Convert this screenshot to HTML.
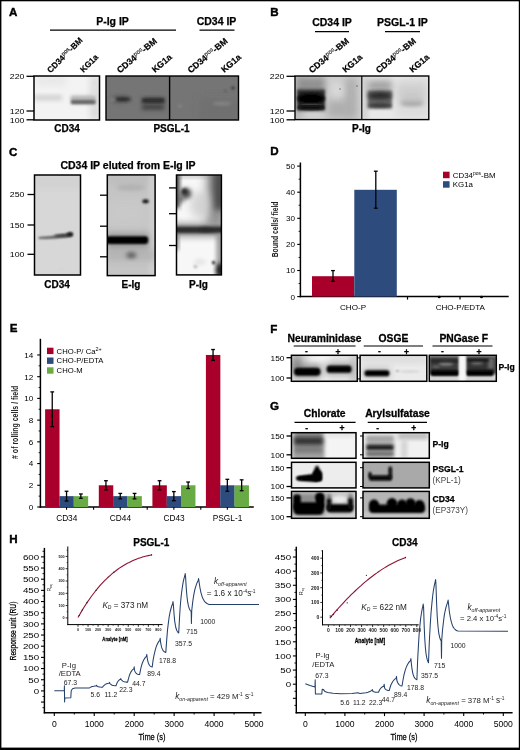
<!DOCTYPE html>
<html lang="en"><head><meta charset="utf-8"><title>Figure</title>
<style>html,body{margin:0;padding:0;background:#fff}body{width:520px;height:750px;overflow:hidden}svg{display:block}text{font-family:"Liberation Sans", sans-serif}</style>
</head><body>
<svg width="520" height="750" viewBox="0 0 520 750">
<defs>
<filter id="b05" x="-50%" y="-50%" width="200%" height="200%"><feGaussianBlur stdDeviation="0.5"/></filter>
<filter id="b1" x="-50%" y="-50%" width="200%" height="200%"><feGaussianBlur stdDeviation="1.0"/></filter>
<filter id="b15" x="-50%" y="-50%" width="200%" height="200%"><feGaussianBlur stdDeviation="1.5"/></filter>
<filter id="b2" x="-50%" y="-50%" width="200%" height="200%"><feGaussianBlur stdDeviation="2.0"/></filter>
<filter id="b3" x="-50%" y="-50%" width="200%" height="200%"><feGaussianBlur stdDeviation="3.0"/></filter>
<filter id="b4" x="-50%" y="-50%" width="200%" height="200%"><feGaussianBlur stdDeviation="4.0"/></filter>
<filter id="b6" x="-50%" y="-50%" width="200%" height="200%"><feGaussianBlur stdDeviation="6.0"/></filter>
<filter id="bh" x="-50%" y="-100%" width="200%" height="300%"><feGaussianBlur stdDeviation="2 0.8"/></filter>
<filter id="bh2" x="-50%" y="-100%" width="200%" height="300%"><feGaussianBlur stdDeviation="1.5 1.2"/></filter>
<filter id="bv" x="-100%" y="-50%" width="300%" height="200%"><feGaussianBlur stdDeviation="1 3"/></filter>
<filter id="soft" x="0" y="0" width="100%" height="100%" filterUnits="userSpaceOnUse"><feGaussianBlur stdDeviation="0.38"/></filter>
</defs>
<g filter="url(#soft)">
<rect x="0.00" y="0.00" width="520.00" height="750.00" fill="#fff"/>
<text x="9.00" y="16.40" font-size="11.60" font-weight="bold" fill="#000" stroke="#000" stroke-width="0.4">A</text>
<text x="112.50" y="24.70" font-size="10.50" font-weight="bold" text-anchor="middle" fill="#000" stroke="#000" stroke-width="0.25">P-Ig IP</text>
<line x1="50.00" y1="30.20" x2="176.00" y2="30.20" stroke="#000" stroke-width="1.20"/>
<text x="216.50" y="24.70" font-size="10.50" font-weight="bold" text-anchor="middle" fill="#000" stroke="#000" stroke-width="0.25">CD34 IP</text>
<line x1="199.50" y1="30.20" x2="234.50" y2="30.20" stroke="#000" stroke-width="1.20"/>
<text transform="translate(50.50 73.50) rotate(-45)" font-size="8.30" font-weight="bold" fill="#000" stroke="#000" stroke-width="0.2">CD34<tspan font-size="0.7em" dy="-3" font-weight="normal" fill="#111" stroke="#111" stroke-width="0.15">pos</tspan><tspan dy="3">-BM</tspan></text>
<text transform="translate(83.50 73.00) rotate(-45)" font-size="8.30" font-weight="bold" fill="#000" stroke="#000" stroke-width="0.2">KG1a</text>
<text transform="translate(120.00 73.50) rotate(-40)" font-size="8.80" font-weight="bold" fill="#000" stroke="#000" stroke-width="0.2">CD34<tspan font-size="0.7em" dy="-3" font-weight="normal" fill="#111" stroke="#111" stroke-width="0.15">pos</tspan><tspan dy="3">-BM</tspan></text>
<text transform="translate(155.00 73.00) rotate(-40)" font-size="8.80" font-weight="bold" fill="#000" stroke="#000" stroke-width="0.2">KG1a</text>
<text transform="translate(190.70 73.50) rotate(-40)" font-size="8.80" font-weight="bold" fill="#000" stroke="#000" stroke-width="0.2">CD34<tspan font-size="0.7em" dy="-3" font-weight="normal" fill="#111" stroke="#111" stroke-width="0.15">pos</tspan><tspan dy="3">-BM</tspan></text>
<text transform="translate(224.20 73.00) rotate(-40)" font-size="8.80" font-weight="bold" fill="#000" stroke="#000" stroke-width="0.2">KG1a</text>
<text transform="translate(24.50 79.20) scale(1.1 1)" font-size="8.00" text-anchor="end" fill="#000">220</text>
<line x1="26.50" y1="76.30" x2="34.00" y2="76.30" stroke="#000" stroke-width="1.30"/>
<text transform="translate(24.50 113.90) scale(1.1 1)" font-size="8.00" text-anchor="end" fill="#000">120</text>
<line x1="26.50" y1="111.00" x2="34.00" y2="111.00" stroke="#000" stroke-width="1.30"/>
<text transform="translate(24.50 122.70) scale(1.1 1)" font-size="8.00" text-anchor="end" fill="#000">100</text>
<line x1="26.50" y1="119.80" x2="34.00" y2="119.80" stroke="#000" stroke-width="1.30"/>
<clipPath id="c1"><rect x="34.00" y="76.00" width="65.50" height="44.00"/></clipPath>
<g clip-path="url(#c1)">
<rect x="34.00" y="76.00" width="65.50" height="44.00" fill="#f3f3f3"/>
<rect x="90.00" y="76.00" width="10.00" height="44.00" fill="#dcdcdc" filter="url(#b3)"/>
<rect x="36.00" y="76.00" width="30.00" height="10.00" fill="#e8e8e8" filter="url(#b3)"/>
<rect x="34.00" y="95.00" width="28.00" height="5.40" fill="#cdcdcd" filter="url(#b2)" opacity="0.90"/>
<rect x="70.50" y="95.40" width="25.20" height="9.20" fill="#b4b4b4" rx="2.00" filter="url(#b15)" opacity="0.95"/>
<rect x="71.00" y="100.00" width="24.60" height="3.90" fill="#686868" rx="1.60" filter="url(#b1)"/>
<rect x="92.50" y="85.00" width="3.00" height="10.00" fill="#e2e2e2" filter="url(#b1)"/>
</g>
<rect x="34.00" y="76.00" width="65.50" height="44.00" fill="none" stroke="#000" stroke-width="1.50"/>
<text x="67.00" y="131.50" font-size="10.00" font-weight="bold" text-anchor="middle" fill="#000" stroke="#000" stroke-width="0.25">CD34</text>
<clipPath id="c2"><rect x="106.00" y="76.00" width="132.50" height="44.00"/></clipPath>
<g clip-path="url(#c2)">
<rect x="106.00" y="76.00" width="132.50" height="44.00" fill="#757575"/>
<rect x="170.00" y="76.00" width="69.00" height="44.00" fill="#747474"/>
<rect x="200.00" y="100.00" width="40.00" height="20.00" fill="#6f6f6f" filter="url(#b4)"/>
<ellipse cx="120.50" cy="99.30" rx="11.00" ry="4.00" fill="#5a5a5a" filter="url(#b2)" opacity="0.70"/>
<ellipse cx="122.50" cy="99.20" rx="8.50" ry="2.20" fill="#2a2a2a" filter="url(#b15)"/>
<ellipse cx="113.00" cy="99.50" rx="3.00" ry="1.50" fill="#9a9a9a" filter="url(#b15)" opacity="0.70"/>
<rect x="141.50" y="97.50" width="23.50" height="13.50" fill="#555" filter="url(#b2)" opacity="0.75"/>
<rect x="142.00" y="98.00" width="22.50" height="5.00" fill="#2c2c2c" rx="2.00" filter="url(#b15)"/>
<rect x="143.00" y="105.50" width="20.00" height="3.40" fill="#444" rx="1.50" filter="url(#b15)" opacity="0.90"/>
<ellipse cx="233.00" cy="88.00" rx="1.60" ry="1.80" fill="#3a3a3a" filter="url(#b1)"/>
<ellipse cx="225.50" cy="91.00" rx="1.30" ry="1.30" fill="#5a5a5a" filter="url(#b1)"/>
<ellipse cx="222.00" cy="103.50" rx="9.50" ry="1.80" fill="#8c8c8c" filter="url(#b15)" opacity="0.80"/>
<ellipse cx="180.00" cy="106.00" rx="2.50" ry="1.50" fill="#868686" filter="url(#b15)"/>
</g>
<rect x="106.00" y="76.00" width="132.50" height="44.00" fill="none" stroke="#000" stroke-width="1.40"/>
<line x1="169.60" y1="76.00" x2="169.60" y2="120.00" stroke="#000" stroke-width="1.40"/>
<text x="171.50" y="131.50" font-size="10.00" font-weight="bold" text-anchor="middle" fill="#000" stroke="#000" stroke-width="0.25">PSGL-1</text>
<text x="270.30" y="16.40" font-size="11.60" font-weight="bold" fill="#000" stroke="#000" stroke-width="0.4">B</text>
<text x="332.00" y="26.10" font-size="10.50" font-weight="bold" text-anchor="middle" fill="#000" stroke="#000" stroke-width="0.25">CD34 IP</text>
<line x1="315.00" y1="31.60" x2="349.00" y2="31.60" stroke="#000" stroke-width="1.10"/>
<text x="402.50" y="26.10" font-size="10.50" font-weight="bold" text-anchor="middle" fill="#000" stroke="#000" stroke-width="0.25">PSGL-1 IP</text>
<line x1="385.00" y1="31.60" x2="420.00" y2="31.60" stroke="#000" stroke-width="1.10"/>
<text transform="translate(312.00 73.50) rotate(-40)" font-size="8.80" font-weight="bold" fill="#000" stroke="#000" stroke-width="0.2">CD34<tspan font-size="0.7em" dy="-3" font-weight="normal" fill="#111" stroke="#111" stroke-width="0.15">pos</tspan><tspan dy="3">-BM</tspan></text>
<text transform="translate(345.50 73.00) rotate(-40)" font-size="8.80" font-weight="bold" fill="#000" stroke="#000" stroke-width="0.2">KG1a</text>
<text transform="translate(379.00 73.50) rotate(-40)" font-size="8.80" font-weight="bold" fill="#000" stroke="#000" stroke-width="0.2">CD34<tspan font-size="0.7em" dy="-3" font-weight="normal" fill="#111" stroke="#111" stroke-width="0.15">pos</tspan><tspan dy="3">-BM</tspan></text>
<text transform="translate(412.50 73.00) rotate(-40)" font-size="8.80" font-weight="bold" fill="#000" stroke="#000" stroke-width="0.2">KG1a</text>
<text transform="translate(284.50 79.20) scale(1.1 1)" font-size="8.00" text-anchor="end" fill="#000">220</text>
<line x1="286.50" y1="76.30" x2="295.00" y2="76.30" stroke="#000" stroke-width="1.30"/>
<text transform="translate(284.50 113.90) scale(1.1 1)" font-size="8.00" text-anchor="end" fill="#000">120</text>
<line x1="286.50" y1="111.00" x2="295.00" y2="111.00" stroke="#000" stroke-width="1.30"/>
<text transform="translate(284.50 122.70) scale(1.1 1)" font-size="8.00" text-anchor="end" fill="#000">100</text>
<line x1="286.50" y1="119.80" x2="295.00" y2="119.80" stroke="#000" stroke-width="1.30"/>
<clipPath id="c3"><rect x="295.00" y="76.00" width="133.80" height="43.60"/></clipPath>
<g clip-path="url(#c3)">
<rect x="295.00" y="76.00" width="133.80" height="43.60" fill="#dedede"/>
<rect x="295.00" y="76.00" width="67.00" height="44.00" fill="#cfcfcf"/>
<rect x="293.00" y="76.00" width="10.00" height="44.00" fill="#b4b4b4" filter="url(#b3)" opacity="0.80"/>
<rect x="326.00" y="76.00" width="38.00" height="44.00" fill="#cdcdcd" filter="url(#b3)"/>
<rect x="345.00" y="78.00" width="12.00" height="40.00" fill="#a8a8a8" filter="url(#b3)" opacity="0.75"/>
<rect x="327.00" y="100.00" width="22.00" height="18.00" fill="#a9a9a9" filter="url(#b4)" opacity="0.85"/>
<ellipse cx="337.00" cy="90.00" rx="6.00" ry="8.00" fill="#dcdcdc" filter="url(#b3)" opacity="0.80"/>
<ellipse cx="340.00" cy="89.00" rx="0.80" ry="0.80" fill="#777" filter="url(#b05)"/>
<ellipse cx="357.00" cy="86.00" rx="0.80" ry="0.80" fill="#666" filter="url(#b05)"/>
<rect x="297.00" y="77.00" width="28.00" height="15.00" fill="#8a8a8a" filter="url(#b3)" opacity="0.90"/>
<rect x="297.00" y="89.50" width="28.00" height="21.00" fill="#262626" filter="url(#b15)"/>
<ellipse cx="311.00" cy="98.60" rx="13.80" ry="5.00" fill="#000" filter="url(#b15)"/>
<ellipse cx="311.00" cy="107.70" rx="13.40" ry="2.30" fill="#0a0a0a" filter="url(#b1)"/>
<ellipse cx="311.50" cy="104.20" rx="11.00" ry="0.70" fill="#4a4a4a" filter="url(#b05)" opacity="0.70"/>
<rect x="362.00" y="76.00" width="67.00" height="44.00" fill="#e8e8e8"/>
<rect x="362.00" y="76.00" width="6.00" height="44.00" fill="#d2d2d2" filter="url(#b2)"/>
<rect x="396.00" y="78.00" width="34.00" height="40.00" fill="#dcdcdc" filter="url(#b4)"/>
<rect x="398.00" y="84.00" width="27.00" height="15.00" fill="#cccccc" filter="url(#b3)" opacity="0.80"/>
<rect x="367.50" y="80.00" width="24.50" height="12.00" fill="#9a9a9a" filter="url(#b3)" opacity="0.85"/>
<rect x="367.50" y="90.50" width="24.50" height="18.00" fill="#666" filter="url(#b15)"/>
<ellipse cx="380.00" cy="95.80" rx="12.00" ry="3.80" fill="#2a2a2a" filter="url(#b2)"/>
<ellipse cx="380.00" cy="105.40" rx="11.80" ry="2.10" fill="#383838" filter="url(#b15)"/>
<ellipse cx="412.00" cy="103.00" rx="11.50" ry="2.60" fill="#8e8e8e" filter="url(#b2)"/>
<ellipse cx="412.00" cy="99.00" rx="12.00" ry="5.00" fill="#c2c2c2" filter="url(#b3)" opacity="0.80"/>
</g>
<rect x="295.00" y="76.00" width="133.80" height="43.60" fill="none" stroke="#000" stroke-width="1.40"/>
<line x1="361.80" y1="76.00" x2="361.80" y2="119.60" stroke="#000" stroke-width="1.20"/>
<text x="361.50" y="131.50" font-size="10.00" font-weight="bold" text-anchor="middle" fill="#000" stroke="#000" stroke-width="0.25">P-Ig</text>
<text x="9.00" y="155.60" font-size="11.60" font-weight="bold" fill="#000" stroke="#000" stroke-width="0.4">C</text>
<text x="128.00" y="169.00" font-size="10.50" font-weight="bold" text-anchor="middle" fill="#000" stroke="#000" stroke-width="0.25">CD34 IP eluted from E-Ig IP</text>
<text transform="translate(24.50 197.40) scale(1.1 1)" font-size="8.00" text-anchor="end" fill="#000">250</text>
<line x1="27.50" y1="194.50" x2="34.50" y2="194.50" stroke="#000" stroke-width="1.30"/>
<text transform="translate(24.50 227.90) scale(1.1 1)" font-size="8.00" text-anchor="end" fill="#000">150</text>
<line x1="27.50" y1="225.00" x2="34.50" y2="225.00" stroke="#000" stroke-width="1.30"/>
<text transform="translate(24.50 257.20) scale(1.1 1)" font-size="8.00" text-anchor="end" fill="#000">100</text>
<line x1="27.50" y1="254.30" x2="34.50" y2="254.30" stroke="#000" stroke-width="1.30"/>
<clipPath id="c4"><rect x="34.50" y="175.00" width="46.00" height="100.00"/></clipPath>
<g clip-path="url(#c4)">
<rect x="34.50" y="175.00" width="46.00" height="100.00" fill="#d7d7d7"/>
<rect x="34.00" y="175.00" width="48.00" height="14.00" fill="#d2d2d2" filter="url(#b3)"/>
<path d="M38.5 237 L50 236.2 L58 235 L66 233.4 L72 232.6 L72.6 236.2 L66 237.4 L56 238.4 L46 239 L38.5 238.8 Z" fill="#5a5a5a" filter="url(#b1)"/>
<ellipse cx="62.00" cy="235.60" rx="8.00" ry="1.50" fill="#3a3a3a" filter="url(#b1)" opacity="0.80"/>
<ellipse cx="70.00" cy="234.30" rx="3.00" ry="2.10" fill="#161616" filter="url(#b1)"/>
<ellipse cx="61.00" cy="269.00" rx="1.50" ry="1.00" fill="#cfcfcf" filter="url(#b1)"/>
</g>
<rect x="34.50" y="175.00" width="46.00" height="100.00" fill="none" stroke="#000" stroke-width="1.50"/>
<text x="57.00" y="287.50" font-size="10.00" font-weight="bold" text-anchor="middle" fill="#000" stroke="#000" stroke-width="0.25">CD34</text>
<line x1="100.00" y1="195.20" x2="107.00" y2="195.20" stroke="#000" stroke-width="1.30"/>
<line x1="100.00" y1="226.20" x2="107.00" y2="226.20" stroke="#000" stroke-width="1.30"/>
<line x1="100.00" y1="256.80" x2="107.00" y2="256.80" stroke="#000" stroke-width="1.30"/>
<clipPath id="c5"><rect x="107.30" y="174.90" width="47.80" height="100.70"/></clipPath>
<g clip-path="url(#c5)">
<rect x="107.30" y="174.90" width="47.80" height="100.70" fill="#c5c5c5"/>
<rect x="107.00" y="175.00" width="48.00" height="10.00" fill="#bebebe" filter="url(#b3)"/>
<ellipse cx="131.00" cy="187.50" rx="15.00" ry="3.00" fill="#adadad" filter="url(#b2)" opacity="0.90"/>
<rect x="149.00" y="175.00" width="8.00" height="101.00" fill="#cecece" filter="url(#b2)"/>
<rect x="107.00" y="200.00" width="38.00" height="26.00" fill="#cacaca" filter="url(#b4)" opacity="0.70"/>
<rect x="107.00" y="249.00" width="48.00" height="12.00" fill="#b0b0b0" filter="url(#b3)" opacity="0.80"/>
<rect x="107.00" y="233.50" width="42.00" height="14.00" fill="#666" filter="url(#b3)" opacity="0.50"/>
<rect x="105.00" y="236.20" width="43.20" height="7.80" fill="#050505" rx="3.00" filter="url(#b1)"/>
<ellipse cx="145.60" cy="201.20" rx="3.20" ry="2.00" fill="#141414" filter="url(#b1)"/>
<ellipse cx="131.30" cy="255.20" rx="5.00" ry="3.00" fill="#5a5a5a" filter="url(#b2)"/>
</g>
<rect x="107.30" y="174.90" width="47.80" height="100.70" fill="none" stroke="#000" stroke-width="1.50"/>
<text x="131.00" y="287.50" font-size="10.00" font-weight="bold" text-anchor="middle" fill="#000" stroke="#000" stroke-width="0.25">E-Ig</text>
<line x1="169.00" y1="187.90" x2="176.60" y2="187.90" stroke="#000" stroke-width="1.30"/>
<line x1="169.00" y1="213.70" x2="176.60" y2="213.70" stroke="#000" stroke-width="1.30"/>
<line x1="169.00" y1="245.50" x2="176.60" y2="245.50" stroke="#000" stroke-width="1.30"/>
<clipPath id="c6"><rect x="176.50" y="175.00" width="44.90" height="99.90"/></clipPath>
<g clip-path="url(#c6)">
<rect x="176.50" y="175.00" width="44.90" height="99.90" fill="#f7f7f7"/>
<rect x="176.00" y="174.00" width="46.00" height="4.00" fill="#bbb" filter="url(#b2)" opacity="0.80"/>
<rect x="206.00" y="170.00" width="20.00" height="56.00" fill="#8a8a8a" filter="url(#b4)" opacity="0.90"/>
<rect x="213.00" y="170.00" width="12.00" height="40.00" fill="#444" filter="url(#b3)" opacity="0.90"/>
<ellipse cx="200.00" cy="205.00" rx="10.00" ry="14.00" fill="#ccc" filter="url(#b4)" opacity="0.80"/>
<rect x="174.00" y="174.00" width="5.50" height="34.00" fill="#333" filter="url(#b2)"/>
<ellipse cx="186.00" cy="193.50" rx="5.50" ry="5.50" fill="#555" filter="url(#b2)"/>
<ellipse cx="184.50" cy="191.50" rx="3.00" ry="3.00" fill="#2a2a2a" filter="url(#b15)"/>
<ellipse cx="181.00" cy="199.00" rx="3.00" ry="4.00" fill="#555" filter="url(#b2)" opacity="0.80"/>
<rect x="172.00" y="223.00" width="54.00" height="14.00" fill="#777" filter="url(#b3)" opacity="0.70"/>
<rect x="172.00" y="226.60" width="54.00" height="6.60" fill="#2a2a2a" filter="url(#b15)"/>
<ellipse cx="205.00" cy="229.80" rx="4.00" ry="2.00" fill="#222" filter="url(#b2)" opacity="0.60"/>
<rect x="174.00" y="234.00" width="4.50" height="16.00" fill="#666" filter="url(#b2)" opacity="0.80"/>
<rect x="216.50" y="234.00" width="7.00" height="44.00" fill="#8a8a8a" filter="url(#b2)" opacity="0.85"/>
<ellipse cx="220.00" cy="270.00" rx="4.00" ry="7.00" fill="#1a1a1a" filter="url(#b2)"/>
<ellipse cx="213.60" cy="262.60" rx="1.70" ry="1.90" fill="#333" filter="url(#b1)"/>
<ellipse cx="195.50" cy="266.50" rx="2.00" ry="2.00" fill="#bdbdbd" filter="url(#b1)"/>
<ellipse cx="200.00" cy="262.00" rx="6.00" ry="3.00" fill="#e4e4e4" filter="url(#b2)"/>
</g>
<rect x="176.50" y="175.00" width="44.90" height="99.90" fill="none" stroke="#000" stroke-width="1.50"/>
<text x="198.50" y="287.50" font-size="10.00" font-weight="bold" text-anchor="middle" fill="#000" stroke="#000" stroke-width="0.25">P-Ig</text>
<text x="270.30" y="155.40" font-size="11.60" font-weight="bold" fill="#000" stroke="#000" stroke-width="0.4">D</text>
<line x1="300.40" y1="162.50" x2="300.40" y2="297.30" stroke="#000" stroke-width="1.50"/>
<line x1="299.70" y1="296.60" x2="508.70" y2="296.60" stroke="#000" stroke-width="1.50"/>
<line x1="297.20" y1="296.60" x2="300.40" y2="296.60" stroke="#000" stroke-width="1.10"/>
<text x="295.00" y="299.50" font-size="8.10" text-anchor="end" fill="#000">0</text>
<line x1="297.20" y1="270.50" x2="300.40" y2="270.50" stroke="#000" stroke-width="1.10"/>
<text x="295.00" y="273.40" font-size="8.10" text-anchor="end" fill="#000">10</text>
<line x1="297.20" y1="244.40" x2="300.40" y2="244.40" stroke="#000" stroke-width="1.10"/>
<text x="295.00" y="247.30" font-size="8.10" text-anchor="end" fill="#000">20</text>
<line x1="297.20" y1="218.30" x2="300.40" y2="218.30" stroke="#000" stroke-width="1.10"/>
<text x="295.00" y="221.20" font-size="8.10" text-anchor="end" fill="#000">30</text>
<line x1="297.20" y1="192.20" x2="300.40" y2="192.20" stroke="#000" stroke-width="1.10"/>
<text x="295.00" y="195.10" font-size="8.10" text-anchor="end" fill="#000">40</text>
<line x1="297.20" y1="166.10" x2="300.40" y2="166.10" stroke="#000" stroke-width="1.10"/>
<text x="295.00" y="169.00" font-size="8.10" text-anchor="end" fill="#000">50</text>
<line x1="298.60" y1="283.55" x2="300.40" y2="283.55" stroke="#000" stroke-width="0.90"/>
<line x1="298.60" y1="257.45" x2="300.40" y2="257.45" stroke="#000" stroke-width="0.90"/>
<line x1="298.60" y1="231.35" x2="300.40" y2="231.35" stroke="#000" stroke-width="0.90"/>
<line x1="298.60" y1="205.25" x2="300.40" y2="205.25" stroke="#000" stroke-width="0.90"/>
<line x1="298.60" y1="179.15" x2="300.40" y2="179.15" stroke="#000" stroke-width="0.90"/>
<line x1="407.50" y1="296.60" x2="407.50" y2="299.60" stroke="#000" stroke-width="1.20"/>
<line x1="460.00" y1="296.60" x2="460.00" y2="299.60" stroke="#000" stroke-width="1.20"/>
<rect x="312.00" y="276.20" width="42.30" height="20.40" fill="#a8042c"/>
<rect x="354.30" y="189.80" width="42.50" height="106.80" fill="#2f4c7e"/>
<line x1="333.00" y1="270.60" x2="333.00" y2="281.30" stroke="#000" stroke-width="1.30"/>
<line x1="331.10" y1="270.60" x2="334.90" y2="270.60" stroke="#000" stroke-width="1.30"/>
<line x1="331.10" y1="281.30" x2="334.90" y2="281.30" stroke="#000" stroke-width="1.30"/>
<line x1="375.80" y1="171.20" x2="375.80" y2="208.20" stroke="#000" stroke-width="1.30"/>
<line x1="373.90" y1="171.20" x2="377.70" y2="171.20" stroke="#000" stroke-width="1.30"/>
<line x1="373.90" y1="208.20" x2="377.70" y2="208.20" stroke="#000" stroke-width="1.30"/>
<ellipse cx="439.20" cy="296.90" rx="1.50" ry="1.25" fill="#000"/>
<ellipse cx="481.50" cy="296.90" rx="1.50" ry="1.25" fill="#000"/>
<text x="353.00" y="310.00" font-size="8.10" text-anchor="middle" fill="#000">CHO-P</text>
<text x="460.30" y="310.00" font-size="8.10" text-anchor="middle" fill="#000">CHO-P/EDTA</text>
<rect x="443.00" y="171.70" width="6.60" height="6.50" fill="#a8042c"/>
<rect x="443.00" y="181.20" width="6.60" height="6.50" fill="#2f4c7e"/>
<text x="452.80" y="177.70" font-size="7.90" fill="#000">CD34<tspan font-size="5" dy="-2.6">pos</tspan><tspan dy="2.6">-BM</tspan></text>
<text x="452.80" y="186.70" font-size="7.90" fill="#000">KG1a</text>
<text transform="translate(278.2 229.4) rotate(-90) scale(0.775 1)" font-size="8.7" font-weight="bold" text-anchor="middle" fill="#222">Bound cells/ field</text>
<text x="9.80" y="332.20" font-size="11.60" font-weight="bold" fill="#000" stroke="#000" stroke-width="0.4">E</text>
<line x1="40.40" y1="338.80" x2="40.40" y2="507.70" stroke="#000" stroke-width="1.50"/>
<line x1="39.70" y1="507.00" x2="253.80" y2="507.00" stroke="#000" stroke-width="1.50"/>
<line x1="37.20" y1="507.00" x2="40.40" y2="507.00" stroke="#000" stroke-width="1.10"/>
<text x="33.20" y="509.90" font-size="8.10" text-anchor="end" fill="#000">0</text>
<line x1="37.20" y1="485.28" x2="40.40" y2="485.28" stroke="#000" stroke-width="1.10"/>
<text x="33.20" y="488.18" font-size="8.10" text-anchor="end" fill="#000">2</text>
<line x1="37.20" y1="463.56" x2="40.40" y2="463.56" stroke="#000" stroke-width="1.10"/>
<text x="33.20" y="466.46" font-size="8.10" text-anchor="end" fill="#000">4</text>
<line x1="37.20" y1="441.84" x2="40.40" y2="441.84" stroke="#000" stroke-width="1.10"/>
<text x="33.20" y="444.74" font-size="8.10" text-anchor="end" fill="#000">6</text>
<line x1="37.20" y1="420.12" x2="40.40" y2="420.12" stroke="#000" stroke-width="1.10"/>
<text x="33.20" y="423.02" font-size="8.10" text-anchor="end" fill="#000">8</text>
<line x1="37.20" y1="398.40" x2="40.40" y2="398.40" stroke="#000" stroke-width="1.10"/>
<text x="33.20" y="401.30" font-size="8.10" text-anchor="end" fill="#000">10</text>
<line x1="37.20" y1="376.68" x2="40.40" y2="376.68" stroke="#000" stroke-width="1.10"/>
<text x="33.20" y="379.58" font-size="8.10" text-anchor="end" fill="#000">12</text>
<line x1="37.20" y1="354.96" x2="40.40" y2="354.96" stroke="#000" stroke-width="1.10"/>
<text x="33.20" y="357.86" font-size="8.10" text-anchor="end" fill="#000">14</text>
<line x1="38.60" y1="496.14" x2="40.40" y2="496.14" stroke="#000" stroke-width="0.90"/>
<line x1="38.60" y1="474.42" x2="40.40" y2="474.42" stroke="#000" stroke-width="0.90"/>
<line x1="38.60" y1="452.70" x2="40.40" y2="452.70" stroke="#000" stroke-width="0.90"/>
<line x1="38.60" y1="430.98" x2="40.40" y2="430.98" stroke="#000" stroke-width="0.90"/>
<line x1="38.60" y1="409.26" x2="40.40" y2="409.26" stroke="#000" stroke-width="0.90"/>
<line x1="38.60" y1="387.54" x2="40.40" y2="387.54" stroke="#000" stroke-width="0.90"/>
<line x1="38.60" y1="365.82" x2="40.40" y2="365.82" stroke="#000" stroke-width="0.90"/>
<rect x="45.10" y="409.26" width="14.45" height="97.74" fill="#a8042c"/>
<rect x="59.40" y="496.14" width="14.45" height="10.86" fill="#2f4c7e"/>
<rect x="73.70" y="496.14" width="14.45" height="10.86" fill="#68ab45"/>
<line x1="52.25" y1="391.88" x2="52.25" y2="426.64" stroke="#000" stroke-width="1.30"/>
<line x1="50.35" y1="391.88" x2="54.15" y2="391.88" stroke="#000" stroke-width="1.30"/>
<line x1="50.35" y1="426.64" x2="54.15" y2="426.64" stroke="#000" stroke-width="1.30"/>
<line x1="66.55" y1="491.25" x2="66.55" y2="501.03" stroke="#000" stroke-width="1.30"/>
<line x1="64.65" y1="491.25" x2="68.45" y2="491.25" stroke="#000" stroke-width="1.30"/>
<line x1="64.65" y1="501.03" x2="68.45" y2="501.03" stroke="#000" stroke-width="1.30"/>
<line x1="80.85" y1="493.97" x2="80.85" y2="498.31" stroke="#000" stroke-width="1.30"/>
<line x1="78.95" y1="493.97" x2="82.75" y2="493.97" stroke="#000" stroke-width="1.30"/>
<line x1="78.95" y1="498.31" x2="82.75" y2="498.31" stroke="#000" stroke-width="1.30"/>
<text x="66.75" y="520.90" font-size="8.30" text-anchor="middle" fill="#000">CD34</text>
<line x1="66.55" y1="507.00" x2="66.55" y2="509.80" stroke="#000" stroke-width="1.10"/>
<rect x="98.80" y="485.28" width="14.45" height="21.72" fill="#a8042c"/>
<rect x="113.10" y="496.14" width="14.45" height="10.86" fill="#2f4c7e"/>
<rect x="127.40" y="496.14" width="14.45" height="10.86" fill="#68ab45"/>
<line x1="105.95" y1="480.72" x2="105.95" y2="489.84" stroke="#000" stroke-width="1.30"/>
<line x1="104.05" y1="480.72" x2="107.85" y2="480.72" stroke="#000" stroke-width="1.30"/>
<line x1="104.05" y1="489.84" x2="107.85" y2="489.84" stroke="#000" stroke-width="1.30"/>
<line x1="120.25" y1="493.43" x2="120.25" y2="498.86" stroke="#000" stroke-width="1.30"/>
<line x1="118.35" y1="493.43" x2="122.15" y2="493.43" stroke="#000" stroke-width="1.30"/>
<line x1="118.35" y1="498.86" x2="122.15" y2="498.86" stroke="#000" stroke-width="1.30"/>
<line x1="134.55" y1="493.43" x2="134.55" y2="498.86" stroke="#000" stroke-width="1.30"/>
<line x1="132.65" y1="493.43" x2="136.45" y2="493.43" stroke="#000" stroke-width="1.30"/>
<line x1="132.65" y1="498.86" x2="136.45" y2="498.86" stroke="#000" stroke-width="1.30"/>
<text x="120.45" y="520.90" font-size="8.30" text-anchor="middle" fill="#000">CD44</text>
<line x1="120.25" y1="507.00" x2="120.25" y2="509.80" stroke="#000" stroke-width="1.10"/>
<rect x="152.40" y="485.28" width="14.45" height="21.72" fill="#a8042c"/>
<rect x="166.70" y="496.14" width="14.45" height="10.86" fill="#2f4c7e"/>
<rect x="181.00" y="485.28" width="14.45" height="21.72" fill="#68ab45"/>
<line x1="159.55" y1="480.72" x2="159.55" y2="489.84" stroke="#000" stroke-width="1.30"/>
<line x1="157.65" y1="480.72" x2="161.45" y2="480.72" stroke="#000" stroke-width="1.30"/>
<line x1="157.65" y1="489.84" x2="161.45" y2="489.84" stroke="#000" stroke-width="1.30"/>
<line x1="173.85" y1="491.58" x2="173.85" y2="500.70" stroke="#000" stroke-width="1.30"/>
<line x1="171.95" y1="491.58" x2="175.75" y2="491.58" stroke="#000" stroke-width="1.30"/>
<line x1="171.95" y1="500.70" x2="175.75" y2="500.70" stroke="#000" stroke-width="1.30"/>
<line x1="188.15" y1="482.02" x2="188.15" y2="488.54" stroke="#000" stroke-width="1.30"/>
<line x1="186.25" y1="482.02" x2="190.05" y2="482.02" stroke="#000" stroke-width="1.30"/>
<line x1="186.25" y1="488.54" x2="190.05" y2="488.54" stroke="#000" stroke-width="1.30"/>
<text x="174.05" y="520.90" font-size="8.30" text-anchor="middle" fill="#000">CD43</text>
<line x1="173.85" y1="507.00" x2="173.85" y2="509.80" stroke="#000" stroke-width="1.10"/>
<rect x="205.90" y="354.96" width="14.45" height="152.04" fill="#a8042c"/>
<rect x="220.20" y="485.28" width="14.45" height="21.72" fill="#2f4c7e"/>
<rect x="234.50" y="485.28" width="14.45" height="21.72" fill="#68ab45"/>
<line x1="213.05" y1="349.53" x2="213.05" y2="360.39" stroke="#000" stroke-width="1.30"/>
<line x1="211.15" y1="349.53" x2="214.95" y2="349.53" stroke="#000" stroke-width="1.30"/>
<line x1="211.15" y1="360.39" x2="214.95" y2="360.39" stroke="#000" stroke-width="1.30"/>
<line x1="227.35" y1="479.31" x2="227.35" y2="491.25" stroke="#000" stroke-width="1.30"/>
<line x1="225.45" y1="479.31" x2="229.25" y2="479.31" stroke="#000" stroke-width="1.30"/>
<line x1="225.45" y1="491.25" x2="229.25" y2="491.25" stroke="#000" stroke-width="1.30"/>
<line x1="241.65" y1="479.85" x2="241.65" y2="490.71" stroke="#000" stroke-width="1.30"/>
<line x1="239.75" y1="479.85" x2="243.55" y2="479.85" stroke="#000" stroke-width="1.30"/>
<line x1="239.75" y1="490.71" x2="243.55" y2="490.71" stroke="#000" stroke-width="1.30"/>
<text x="227.55" y="520.90" font-size="8.30" text-anchor="middle" fill="#000">PSGL-1</text>
<line x1="227.35" y1="507.00" x2="227.35" y2="509.80" stroke="#000" stroke-width="1.10"/>
<line x1="93.60" y1="507.00" x2="93.60" y2="509.80" stroke="#000" stroke-width="1.10"/>
<line x1="147.20" y1="507.00" x2="147.20" y2="509.80" stroke="#000" stroke-width="1.10"/>
<line x1="200.80" y1="507.00" x2="200.80" y2="509.80" stroke="#000" stroke-width="1.10"/>
<rect x="47.00" y="347.70" width="6.50" height="6.40" fill="#a8042c"/>
<text x="56.60" y="353.70" font-size="7.70" fill="#000">CHO-P/ Ca<tspan font-size="5.4" dy="-2.6">2+</tspan></text>
<rect x="47.00" y="357.50" width="6.50" height="6.40" fill="#2f4c7e"/>
<text x="56.60" y="363.40" font-size="7.70" fill="#000">CHO-P/EDTA</text>
<rect x="47.00" y="367.30" width="6.50" height="6.40" fill="#68ab45"/>
<text x="56.60" y="373.10" font-size="7.70" fill="#000">CHO-M</text>
<text transform="translate(17.6 422.3) rotate(-90) scale(0.805 1)" font-size="8.7" font-weight="bold" text-anchor="middle" fill="#222"># of rolling cells / field</text>
<text x="270.30" y="332.70" font-size="11.60" font-weight="bold" fill="#000" stroke="#000" stroke-width="0.4">F</text>
<text x="324.50" y="342.00" font-size="10.30" font-weight="bold" text-anchor="middle" fill="#000" stroke="#000" stroke-width="0.3">Neuraminidase</text>
<line x1="293.70" y1="346.00" x2="355.60" y2="346.00" stroke="#000" stroke-width="1.20"/>
<text x="393.50" y="342.00" font-size="10.30" font-weight="bold" text-anchor="middle" fill="#000" stroke="#000" stroke-width="0.3">OSGE</text>
<line x1="363.70" y1="346.00" x2="423.00" y2="346.00" stroke="#000" stroke-width="1.20"/>
<text x="463.80" y="342.00" font-size="10.30" font-weight="bold" text-anchor="middle" fill="#000" stroke="#000" stroke-width="0.3">PNGase F</text>
<line x1="432.50" y1="346.00" x2="492.50" y2="346.00" stroke="#000" stroke-width="1.20"/>
<text x="306.30" y="354.00" font-size="8.50" font-weight="bold" text-anchor="middle" fill="#000" stroke="#000" stroke-width="0.3">-</text>
<text x="379.30" y="354.00" font-size="8.50" font-weight="bold" text-anchor="middle" fill="#000" stroke="#000" stroke-width="0.3">-</text>
<text x="442.50" y="354.00" font-size="8.50" font-weight="bold" text-anchor="middle" fill="#000" stroke="#000" stroke-width="0.3">-</text>
<text x="338.00" y="355.20" font-size="8.50" font-weight="bold" text-anchor="middle" fill="#000" stroke="#000" stroke-width="0.3">+</text>
<text x="406.40" y="355.20" font-size="8.50" font-weight="bold" text-anchor="middle" fill="#000" stroke="#000" stroke-width="0.3">+</text>
<text x="479.00" y="355.20" font-size="8.50" font-weight="bold" text-anchor="middle" fill="#000" stroke="#000" stroke-width="0.3">+</text>
<text transform="translate(284.50 360.60) scale(1.1 1)" font-size="7.60" text-anchor="end" fill="#000">150</text>
<line x1="286.50" y1="357.70" x2="291.50" y2="357.70" stroke="#000" stroke-width="1.30"/>
<text transform="translate(284.50 380.90) scale(1.1 1)" font-size="7.60" text-anchor="end" fill="#000">100</text>
<line x1="286.50" y1="378.00" x2="291.50" y2="378.00" stroke="#000" stroke-width="1.30"/>
<clipPath id="c7"><rect x="291.40" y="355.30" width="65.90" height="26.00"/></clipPath>
<g clip-path="url(#c7)">
<rect x="291.40" y="355.30" width="65.90" height="26.00" fill="#e6e6e6"/>
<rect x="291.00" y="355.00" width="12.00" height="14.00" fill="#8a8a8a" filter="url(#b3)" opacity="0.80"/>
<rect x="303.00" y="355.00" width="18.00" height="10.00" fill="#c4c4c4" filter="url(#b3)" opacity="0.80"/>
<rect x="308.00" y="355.00" width="22.00" height="9.00" fill="#fafafa" filter="url(#b3)"/>
<rect x="319.00" y="357.00" width="9.00" height="26.00" fill="#f4f4f4" filter="url(#b3)"/>
<rect x="350.00" y="355.00" width="9.00" height="28.00" fill="#cfcfcf" filter="url(#b2)"/>
<rect x="292.00" y="364.00" width="30.00" height="14.00" fill="#555" filter="url(#b3)" opacity="0.50"/>
<rect x="325.00" y="362.50" width="28.00" height="12.50" fill="#666" filter="url(#b3)" opacity="0.45"/>
<rect x="294.00" y="367.80" width="26.50" height="8.00" fill="#050505" rx="3.80" filter="url(#b1)"/>
<rect x="326.60" y="365.60" width="25.00" height="7.20" fill="#050505" rx="3.40" filter="url(#b1)"/>
</g>
<rect x="291.40" y="355.30" width="65.90" height="26.00" fill="none" stroke="#000" stroke-width="1.50"/>
<clipPath id="c8"><rect x="360.10" y="355.30" width="66.70" height="26.00"/></clipPath>
<g clip-path="url(#c8)">
<rect x="360.10" y="355.30" width="66.70" height="26.00" fill="#ebebeb"/>
<rect x="360.00" y="355.00" width="67.00" height="8.00" fill="#dcdcdc" filter="url(#b3)"/>
<rect x="363.00" y="368.00" width="27.00" height="9.00" fill="#777" filter="url(#b3)" opacity="0.40"/>
<rect x="364.50" y="370.20" width="25.00" height="6.00" fill="#060606" rx="2.80" filter="url(#b1)"/>
<ellipse cx="397.50" cy="371.00" rx="1.40" ry="1.00" fill="#999" filter="url(#b1)"/>
<ellipse cx="410.00" cy="371.50" rx="10.00" ry="1.00" fill="#d0d0d0" filter="url(#b1)"/>
</g>
<rect x="360.10" y="355.30" width="66.70" height="26.00" fill="none" stroke="#000" stroke-width="1.50"/>
<line x1="357.40" y1="357.90" x2="360.00" y2="357.90" stroke="#000" stroke-width="1.00"/>
<line x1="357.40" y1="378.90" x2="360.00" y2="378.90" stroke="#000" stroke-width="1.00"/>
<clipPath id="c9"><rect x="429.30" y="355.30" width="67.00" height="26.00"/></clipPath>
<g clip-path="url(#c9)">
<rect x="429.30" y="355.30" width="67.00" height="26.00" fill="#e8e8e8"/>
<rect x="429.00" y="355.00" width="30.50" height="19.00" fill="#3a3a3a" filter="url(#b15)"/>
<rect x="465.50" y="355.00" width="31.00" height="19.00" fill="#333" filter="url(#b15)"/>
<rect x="429.00" y="354.00" width="68.00" height="3.40" fill="#8a8a8a" filter="url(#b1)" opacity="0.85"/>
<ellipse cx="446.00" cy="363.60" rx="7.50" ry="1.90" fill="#909090" filter="url(#b15)" opacity="0.90"/>
<ellipse cx="436.00" cy="366.80" rx="4.00" ry="1.20" fill="#777" filter="url(#b1)" opacity="0.70"/>
<ellipse cx="477.00" cy="363.00" rx="6.00" ry="1.60" fill="#808080" filter="url(#b15)" opacity="0.90"/>
<rect x="488.00" y="358.00" width="6.00" height="11.00" fill="#777" filter="url(#b15)" opacity="0.80"/>
<rect x="431.00" y="360.00" width="27.00" height="2.20" fill="#1a1a1a" filter="url(#b1)" opacity="0.90"/>
<rect x="467.00" y="359.00" width="22.00" height="2.40" fill="#141414" filter="url(#b1)" opacity="0.90"/>
<rect x="430.50" y="370.20" width="28.60" height="6.00" fill="#040404" rx="2.00" filter="url(#b1)"/>
<rect x="466.00" y="370.20" width="27.50" height="6.00" fill="#040404" rx="2.00" filter="url(#b1)"/>
<rect x="429.00" y="377.60" width="68.00" height="5.00" fill="#d0d0d0" filter="url(#b1)" opacity="0.90"/>
<rect x="459.00" y="353.00" width="6.80" height="30.00" fill="#f6f6f6" filter="url(#b1)"/>
</g>
<rect x="429.30" y="355.30" width="67.00" height="26.00" fill="none" stroke="#000" stroke-width="1.50"/>
<text x="498.50" y="369.90" font-size="8.60" font-weight="bold" fill="#000" stroke="#000" stroke-width="0.25">P-Ig</text>
<text x="270.00" y="409.70" font-size="11.60" font-weight="bold" fill="#000" stroke="#000" stroke-width="0.4">G</text>
<text x="324.70" y="417.20" font-size="10.30" font-weight="bold" text-anchor="middle" fill="#000" stroke="#000" stroke-width="0.3">Chlorate</text>
<line x1="294.50" y1="422.40" x2="355.60" y2="422.40" stroke="#000" stroke-width="1.20"/>
<text x="397.50" y="417.20" font-size="10.30" font-weight="bold" text-anchor="middle" fill="#000" stroke="#000" stroke-width="0.3">Arylsulfatase</text>
<line x1="367.70" y1="422.40" x2="427.00" y2="422.40" stroke="#000" stroke-width="1.20"/>
<text x="306.60" y="431.00" font-size="8.50" font-weight="bold" text-anchor="middle" fill="#000" stroke="#000" stroke-width="0.3">-</text>
<text x="342.00" y="431.40" font-size="8.50" font-weight="bold" text-anchor="middle" fill="#000" stroke="#000" stroke-width="0.3">+</text>
<text x="377.70" y="431.00" font-size="8.50" font-weight="bold" text-anchor="middle" fill="#000" stroke="#000" stroke-width="0.3">-</text>
<text x="413.70" y="431.40" font-size="8.50" font-weight="bold" text-anchor="middle" fill="#000" stroke="#000" stroke-width="0.3">+</text>
<text transform="translate(284.50 438.90) scale(1.1 1)" font-size="7.60" text-anchor="end" fill="#000">150</text>
<line x1="286.50" y1="436.00" x2="291.50" y2="436.00" stroke="#000" stroke-width="1.30"/>
<text transform="translate(284.50 457.70) scale(1.1 1)" font-size="7.60" text-anchor="end" fill="#000">100</text>
<line x1="286.50" y1="454.80" x2="291.50" y2="454.80" stroke="#000" stroke-width="1.30"/>
<line x1="360.00" y1="436.00" x2="363.00" y2="436.00" stroke="#000" stroke-width="1.00"/>
<line x1="360.00" y1="454.80" x2="363.00" y2="454.80" stroke="#000" stroke-width="1.00"/>
<text transform="translate(284.50 470.60) scale(1.1 1)" font-size="7.60" text-anchor="end" fill="#000">150</text>
<line x1="286.50" y1="467.70" x2="291.50" y2="467.70" stroke="#000" stroke-width="1.30"/>
<text transform="translate(284.50 489.40) scale(1.1 1)" font-size="7.60" text-anchor="end" fill="#000">100</text>
<line x1="286.50" y1="486.50" x2="291.50" y2="486.50" stroke="#000" stroke-width="1.30"/>
<line x1="360.00" y1="467.70" x2="363.00" y2="467.70" stroke="#000" stroke-width="1.00"/>
<line x1="360.00" y1="486.50" x2="363.00" y2="486.50" stroke="#000" stroke-width="1.00"/>
<text transform="translate(284.50 500.80) scale(1.1 1)" font-size="7.60" text-anchor="end" fill="#000">150</text>
<line x1="286.50" y1="497.90" x2="291.50" y2="497.90" stroke="#000" stroke-width="1.30"/>
<text transform="translate(284.50 519.60) scale(1.1 1)" font-size="7.60" text-anchor="end" fill="#000">100</text>
<line x1="286.50" y1="516.70" x2="291.50" y2="516.70" stroke="#000" stroke-width="1.30"/>
<line x1="360.00" y1="497.90" x2="363.00" y2="497.90" stroke="#000" stroke-width="1.00"/>
<line x1="360.00" y1="516.70" x2="363.00" y2="516.70" stroke="#000" stroke-width="1.00"/>
<clipPath id="c10"><rect x="291.50" y="432.70" width="64.50" height="25.60"/></clipPath>
<g clip-path="url(#c10)">
<rect x="291.50" y="432.70" width="64.50" height="25.60" fill="#f4f4f4"/>
<rect x="293.50" y="431.00" width="30.00" height="29.00" fill="#8a8a8a" filter="url(#b2)"/>
<rect x="294.00" y="437.20" width="29.00" height="7.60" fill="#333" filter="url(#b2)"/>
<rect x="294.50" y="447.00" width="28.00" height="6.00" fill="#7a7a7a" filter="url(#b2)" opacity="0.80"/>
<rect x="294.00" y="454.00" width="29.00" height="5.00" fill="#b0b0b0" filter="url(#b2)" opacity="0.80"/>
<rect x="326.00" y="433.00" width="28.00" height="4.00" fill="#e2e2e2" filter="url(#b2)"/>
</g>
<rect x="291.50" y="432.70" width="64.50" height="25.60" fill="none" stroke="#000" stroke-width="1.50"/>
<clipPath id="c11"><rect x="291.50" y="462.30" width="64.50" height="25.60"/></clipPath>
<g clip-path="url(#c11)">
<rect x="291.50" y="462.30" width="64.50" height="25.60" fill="#ededed"/>
<path d="M296 477.2 L304.6 475.2 L312.6 473.9 L315.4 466.4 L317.8 465.6 L321.9 473.2 L322 480.6 L315.7 482 L301.9 480.8 L296.3 479.6 Z" fill="#060606" filter="url(#b1)"/>
<rect x="297.00" y="476.00" width="24.00" height="4.60" fill="#050505" rx="2.20" filter="url(#b1)"/>
<rect x="313.00" y="471.00" width="8.60" height="10.00" fill="#050505" rx="3.00" filter="url(#b1)"/>
</g>
<rect x="291.50" y="462.30" width="64.50" height="25.60" fill="none" stroke="#000" stroke-width="1.50"/>
<clipPath id="c12"><rect x="291.50" y="491.40" width="64.50" height="26.90"/></clipPath>
<g clip-path="url(#c12)">
<rect x="291.50" y="491.40" width="64.50" height="26.90" fill="#d4d4d4"/>
<rect x="292.00" y="493.00" width="33.00" height="22.00" fill="#707070" filter="url(#b2)" opacity="0.70"/>
<rect x="326.00" y="495.00" width="28.00" height="18.00" fill="#999" filter="url(#b3)" opacity="0.40"/>
<ellipse cx="339.50" cy="499.30" rx="7.50" ry="3.60" fill="#f0f0f0" filter="url(#b15)" opacity="0.90"/>
<rect x="293.20" y="502.20" width="31.00" height="12.60" fill="#030303" rx="5.50" filter="url(#b1)"/>
<rect x="293.20" y="494.50" width="7.60" height="14.00" fill="#060606" rx="3.00" filter="url(#b1)"/>
<ellipse cx="319.80" cy="497.20" rx="4.80" ry="4.80" fill="#050505" filter="url(#b1)"/>
<rect x="316.00" y="498.00" width="8.40" height="10.00" fill="#050505" rx="3.00" filter="url(#b1)"/>
<rect x="326.60" y="504.20" width="26.60" height="8.40" fill="#040404" rx="3.80" filter="url(#b1)"/>
<rect x="326.60" y="498.00" width="4.80" height="12.00" fill="#0a0a0a" rx="2.20" filter="url(#b1)"/>
<rect x="348.00" y="497.50" width="5.20" height="12.00" fill="#0a0a0a" rx="2.40" filter="url(#b1)"/>
<rect x="327.00" y="494.00" width="4.00" height="5.00" fill="#555" filter="url(#b15)" opacity="0.70"/>
<rect x="348.60" y="493.50" width="4.00" height="5.00" fill="#666" filter="url(#b15)" opacity="0.70"/>
</g>
<rect x="291.50" y="491.40" width="64.50" height="26.90" fill="none" stroke="#000" stroke-width="1.50"/>
<clipPath id="c13"><rect x="363.00" y="432.70" width="66.30" height="25.60"/></clipPath>
<g clip-path="url(#c13)">
<rect x="363.00" y="432.70" width="66.30" height="25.60" fill="#f1f1f1"/>
<rect x="366.00" y="435.00" width="28.00" height="24.00" fill="#b0b0b0" filter="url(#b2)"/>
<rect x="366.50" y="444.80" width="27.00" height="5.20" fill="#1e1e1e" filter="url(#b15)"/>
<rect x="366.50" y="451.80" width="27.00" height="3.80" fill="#6a6a6a" filter="url(#b15)"/>
<rect x="367.00" y="437.00" width="26.00" height="3.00" fill="#999" filter="url(#b15)" opacity="0.70"/>
<rect x="398.00" y="433.50" width="30.00" height="5.50" fill="#a8a8a8" filter="url(#b2)" opacity="0.85"/>
<rect x="401.50" y="440.00" width="5.50" height="18.00" fill="#cfcfcf" filter="url(#b2)"/>
</g>
<rect x="363.00" y="432.70" width="66.30" height="25.60" fill="none" stroke="#000" stroke-width="1.50"/>
<clipPath id="c14"><rect x="363.00" y="462.30" width="66.30" height="25.60"/></clipPath>
<g clip-path="url(#c14)">
<rect x="363.00" y="462.30" width="66.30" height="25.60" fill="#a9a9a9"/>
<rect x="369.00" y="475.20" width="23.00" height="5.60" fill="#080808" rx="2.60" filter="url(#b1)"/>
<rect x="388.50" y="466.50" width="3.60" height="12.00" fill="#0c0c0c" rx="1.60" filter="url(#b1)"/>
<rect x="368.50" y="472.00" width="3.00" height="6.00" fill="#000" rx="1.40" filter="url(#b1)"/>
</g>
<rect x="363.00" y="462.30" width="66.30" height="25.60" fill="none" stroke="#000" stroke-width="1.50"/>
<clipPath id="c15"><rect x="363.00" y="491.40" width="66.30" height="26.90"/></clipPath>
<g clip-path="url(#c15)">
<rect x="363.00" y="491.40" width="66.30" height="26.90" fill="#b5b5b5"/>
<rect x="363.00" y="512.00" width="67.00" height="7.00" fill="#c6c6c6" filter="url(#b1)" opacity="0.90"/>
<ellipse cx="374.00" cy="504.50" rx="5.00" ry="5.00" fill="#040404" filter="url(#b1)"/>
<ellipse cx="392.00" cy="503.50" rx="5.40" ry="5.40" fill="#040404" filter="url(#b1)"/>
<ellipse cx="402.00" cy="504.50" rx="5.00" ry="5.00" fill="#040404" filter="url(#b1)"/>
<ellipse cx="410.50" cy="503.50" rx="5.20" ry="5.20" fill="#040404" filter="url(#b1)"/>
<ellipse cx="419.50" cy="505.00" rx="5.00" ry="5.00" fill="#040404" filter="url(#b1)"/>
<rect x="369.00" y="504.50" width="56.00" height="8.60" fill="#040404" rx="4.00" filter="url(#b1)"/>
</g>
<rect x="363.00" y="491.40" width="66.30" height="26.90" fill="none" stroke="#000" stroke-width="1.50"/>
<text x="432.50" y="447.20" font-size="8.60" font-weight="bold" fill="#000" stroke="#000" stroke-width="0.25">P-Ig</text>
<text x="432.50" y="471.80" font-size="8.60" font-weight="bold" fill="#000" stroke="#000" stroke-width="0.25">PSGL-1</text>
<text x="432.50" y="482.60" font-size="8.20" fill="#444">(KPL-1)</text>
<text x="432.50" y="502.20" font-size="8.60" font-weight="bold" fill="#000" stroke="#000" stroke-width="0.25">CD34</text>
<text x="432.50" y="512.80" font-size="8.20" fill="#444">(EP373Y)</text>
<text x="9.20" y="543.40" font-size="11.60" font-weight="bold" fill="#000" stroke="#000" stroke-width="0.4">H</text>
<text x="151.30" y="545.60" font-size="10.00" font-weight="bold" text-anchor="middle" fill="#000" stroke="#000" stroke-width="0.25">PSGL-1</text>
<line x1="44.40" y1="547.90" x2="44.40" y2="713.40" stroke="#000" stroke-width="1.45"/>
<line x1="43.70" y1="712.70" x2="261.50" y2="712.70" stroke="#000" stroke-width="1.45"/>
<line x1="41.00" y1="702.07" x2="44.40" y2="702.07" stroke="#000" stroke-width="1.10"/>
<line x1="41.00" y1="690.90" x2="44.40" y2="690.90" stroke="#000" stroke-width="1.10"/>
<text transform="translate(39.20 693.80) scale(1.27 1)" font-size="7.7" text-anchor="end" fill="#000">0</text>
<line x1="41.00" y1="679.73" x2="44.40" y2="679.73" stroke="#000" stroke-width="1.10"/>
<text transform="translate(39.20 682.63) scale(1.27 1)" font-size="7.7" text-anchor="end" fill="#000">50</text>
<line x1="41.00" y1="668.56" x2="44.40" y2="668.56" stroke="#000" stroke-width="1.10"/>
<text transform="translate(39.20 671.46) scale(1.27 1)" font-size="7.7" text-anchor="end" fill="#000">100</text>
<line x1="41.00" y1="657.39" x2="44.40" y2="657.39" stroke="#000" stroke-width="1.10"/>
<text transform="translate(39.20 660.29) scale(1.27 1)" font-size="7.7" text-anchor="end" fill="#000">150</text>
<line x1="41.00" y1="646.22" x2="44.40" y2="646.22" stroke="#000" stroke-width="1.10"/>
<text transform="translate(39.20 649.12) scale(1.27 1)" font-size="7.7" text-anchor="end" fill="#000">200</text>
<line x1="41.00" y1="635.05" x2="44.40" y2="635.05" stroke="#000" stroke-width="1.10"/>
<text transform="translate(39.20 637.95) scale(1.27 1)" font-size="7.7" text-anchor="end" fill="#000">250</text>
<line x1="41.00" y1="623.88" x2="44.40" y2="623.88" stroke="#000" stroke-width="1.10"/>
<text transform="translate(39.20 626.78) scale(1.27 1)" font-size="7.7" text-anchor="end" fill="#000">300</text>
<line x1="41.00" y1="612.71" x2="44.40" y2="612.71" stroke="#000" stroke-width="1.10"/>
<text transform="translate(39.20 615.61) scale(1.27 1)" font-size="7.7" text-anchor="end" fill="#000">350</text>
<line x1="41.00" y1="601.54" x2="44.40" y2="601.54" stroke="#000" stroke-width="1.10"/>
<text transform="translate(39.20 604.44) scale(1.27 1)" font-size="7.7" text-anchor="end" fill="#000">400</text>
<line x1="41.00" y1="590.37" x2="44.40" y2="590.37" stroke="#000" stroke-width="1.10"/>
<text transform="translate(39.20 593.27) scale(1.27 1)" font-size="7.7" text-anchor="end" fill="#000">450</text>
<line x1="41.00" y1="579.20" x2="44.40" y2="579.20" stroke="#000" stroke-width="1.10"/>
<text transform="translate(39.20 582.10) scale(1.27 1)" font-size="7.7" text-anchor="end" fill="#000">500</text>
<line x1="41.00" y1="568.03" x2="44.40" y2="568.03" stroke="#000" stroke-width="1.10"/>
<text transform="translate(39.20 570.93) scale(1.27 1)" font-size="7.7" text-anchor="end" fill="#000">550</text>
<line x1="41.00" y1="556.86" x2="44.40" y2="556.86" stroke="#000" stroke-width="1.10"/>
<text transform="translate(39.20 559.76) scale(1.27 1)" font-size="7.7" text-anchor="end" fill="#000">600</text>
<line x1="42.50" y1="707.65" x2="44.40" y2="707.65" stroke="#000" stroke-width="0.90"/>
<line x1="42.50" y1="696.49" x2="44.40" y2="696.49" stroke="#000" stroke-width="0.90"/>
<line x1="42.50" y1="685.31" x2="44.40" y2="685.31" stroke="#000" stroke-width="0.90"/>
<line x1="42.50" y1="674.14" x2="44.40" y2="674.14" stroke="#000" stroke-width="0.90"/>
<line x1="42.50" y1="662.98" x2="44.40" y2="662.98" stroke="#000" stroke-width="0.90"/>
<line x1="42.50" y1="651.80" x2="44.40" y2="651.80" stroke="#000" stroke-width="0.90"/>
<line x1="42.50" y1="640.63" x2="44.40" y2="640.63" stroke="#000" stroke-width="0.90"/>
<line x1="42.50" y1="629.46" x2="44.40" y2="629.46" stroke="#000" stroke-width="0.90"/>
<line x1="42.50" y1="618.29" x2="44.40" y2="618.29" stroke="#000" stroke-width="0.90"/>
<line x1="42.50" y1="607.12" x2="44.40" y2="607.12" stroke="#000" stroke-width="0.90"/>
<line x1="42.50" y1="595.95" x2="44.40" y2="595.95" stroke="#000" stroke-width="0.90"/>
<line x1="42.50" y1="584.78" x2="44.40" y2="584.78" stroke="#000" stroke-width="0.90"/>
<line x1="42.50" y1="573.62" x2="44.40" y2="573.62" stroke="#000" stroke-width="0.90"/>
<line x1="42.50" y1="562.44" x2="44.40" y2="562.44" stroke="#000" stroke-width="0.90"/>
<line x1="42.50" y1="551.27" x2="44.40" y2="551.27" stroke="#000" stroke-width="0.90"/>
<line x1="54.30" y1="712.70" x2="54.30" y2="716.10" stroke="#000" stroke-width="1.10"/>
<text x="54.30" y="726.60" font-size="8.60" text-anchor="middle" fill="#000">0</text>
<line x1="74.28" y1="712.70" x2="74.28" y2="714.60" stroke="#000" stroke-width="0.90"/>
<line x1="94.25" y1="712.70" x2="94.25" y2="716.10" stroke="#000" stroke-width="1.10"/>
<text x="94.25" y="726.60" font-size="8.60" text-anchor="middle" fill="#000">1000</text>
<line x1="114.22" y1="712.70" x2="114.22" y2="714.60" stroke="#000" stroke-width="0.90"/>
<line x1="134.20" y1="712.70" x2="134.20" y2="716.10" stroke="#000" stroke-width="1.10"/>
<text x="134.20" y="726.60" font-size="8.60" text-anchor="middle" fill="#000">2000</text>
<line x1="154.17" y1="712.70" x2="154.17" y2="714.60" stroke="#000" stroke-width="0.90"/>
<line x1="174.15" y1="712.70" x2="174.15" y2="716.10" stroke="#000" stroke-width="1.10"/>
<text x="174.15" y="726.60" font-size="8.60" text-anchor="middle" fill="#000">3000</text>
<line x1="194.12" y1="712.70" x2="194.12" y2="714.60" stroke="#000" stroke-width="0.90"/>
<line x1="214.10" y1="712.70" x2="214.10" y2="716.10" stroke="#000" stroke-width="1.10"/>
<text x="214.10" y="726.60" font-size="8.60" text-anchor="middle" fill="#000">4000</text>
<line x1="234.08" y1="712.70" x2="234.08" y2="714.60" stroke="#000" stroke-width="0.90"/>
<line x1="254.05" y1="712.70" x2="254.05" y2="716.10" stroke="#000" stroke-width="1.10"/>
<text x="254.05" y="726.60" font-size="8.60" text-anchor="middle" fill="#000">5000</text>
<text transform="translate(16.00 631.00) rotate(-90) scale(0.80 1)" font-size="8.40" text-anchor="middle" fill="#000" stroke="#000" stroke-width="0.25">Response unit (RU)</text>
<text transform="translate(152.00 739.80) scale(0.78 1)" font-size="9.60" text-anchor="middle" fill="#000" stroke="#000" stroke-width="0.25">Time (s)</text>
<line x1="67.80" y1="546.50" x2="67.80" y2="625.10" stroke="#000" stroke-width="1.00"/>
<line x1="67.30" y1="624.60" x2="162.60" y2="624.60" stroke="#000" stroke-width="1.00"/>
<line x1="65.60" y1="617.90" x2="67.80" y2="617.90" stroke="#000" stroke-width="0.80"/>
<text x="64.60" y="619.23" font-size="3.70" font-weight="bold" text-anchor="end" fill="#222">0</text>
<line x1="66.60" y1="611.75" x2="67.80" y2="611.75" stroke="#000" stroke-width="0.60"/>
<line x1="65.60" y1="605.60" x2="67.80" y2="605.60" stroke="#000" stroke-width="0.80"/>
<text x="64.60" y="606.93" font-size="3.70" font-weight="bold" text-anchor="end" fill="#222">100</text>
<line x1="66.60" y1="599.45" x2="67.80" y2="599.45" stroke="#000" stroke-width="0.60"/>
<line x1="65.60" y1="593.30" x2="67.80" y2="593.30" stroke="#000" stroke-width="0.80"/>
<text x="64.60" y="594.63" font-size="3.70" font-weight="bold" text-anchor="end" fill="#222">200</text>
<line x1="66.60" y1="587.15" x2="67.80" y2="587.15" stroke="#000" stroke-width="0.60"/>
<line x1="65.60" y1="581.00" x2="67.80" y2="581.00" stroke="#000" stroke-width="0.80"/>
<text x="64.60" y="582.33" font-size="3.70" font-weight="bold" text-anchor="end" fill="#222">300</text>
<line x1="66.60" y1="574.85" x2="67.80" y2="574.85" stroke="#000" stroke-width="0.60"/>
<line x1="65.60" y1="568.70" x2="67.80" y2="568.70" stroke="#000" stroke-width="0.80"/>
<text x="64.60" y="570.03" font-size="3.70" font-weight="bold" text-anchor="end" fill="#222">400</text>
<line x1="66.60" y1="562.55" x2="67.80" y2="562.55" stroke="#000" stroke-width="0.60"/>
<line x1="65.60" y1="556.40" x2="67.80" y2="556.40" stroke="#000" stroke-width="0.80"/>
<text x="64.60" y="557.73" font-size="3.70" font-weight="bold" text-anchor="end" fill="#222">500</text>
<line x1="66.60" y1="550.25" x2="67.80" y2="550.25" stroke="#000" stroke-width="0.60"/>
<line x1="78.00" y1="624.60" x2="78.00" y2="626.80" stroke="#000" stroke-width="0.80"/>
<text x="78.00" y="630.90" font-size="3.70" font-weight="bold" text-anchor="middle" fill="#222">0</text>
<line x1="83.03" y1="624.60" x2="83.03" y2="625.80" stroke="#000" stroke-width="0.60"/>
<line x1="88.05" y1="624.60" x2="88.05" y2="626.80" stroke="#000" stroke-width="0.80"/>
<text x="88.05" y="630.90" font-size="3.70" font-weight="bold" text-anchor="middle" fill="#222">100</text>
<line x1="93.08" y1="624.60" x2="93.08" y2="625.80" stroke="#000" stroke-width="0.60"/>
<line x1="98.10" y1="624.60" x2="98.10" y2="626.80" stroke="#000" stroke-width="0.80"/>
<text x="98.10" y="630.90" font-size="3.70" font-weight="bold" text-anchor="middle" fill="#222">200</text>
<line x1="103.12" y1="624.60" x2="103.12" y2="625.80" stroke="#000" stroke-width="0.60"/>
<line x1="108.15" y1="624.60" x2="108.15" y2="626.80" stroke="#000" stroke-width="0.80"/>
<text x="108.15" y="630.90" font-size="3.70" font-weight="bold" text-anchor="middle" fill="#222">300</text>
<line x1="113.18" y1="624.60" x2="113.18" y2="625.80" stroke="#000" stroke-width="0.60"/>
<line x1="118.20" y1="624.60" x2="118.20" y2="626.80" stroke="#000" stroke-width="0.80"/>
<text x="118.20" y="630.90" font-size="3.70" font-weight="bold" text-anchor="middle" fill="#222">400</text>
<line x1="123.23" y1="624.60" x2="123.23" y2="625.80" stroke="#000" stroke-width="0.60"/>
<line x1="128.25" y1="624.60" x2="128.25" y2="626.80" stroke="#000" stroke-width="0.80"/>
<text x="128.25" y="630.90" font-size="3.70" font-weight="bold" text-anchor="middle" fill="#222">500</text>
<line x1="133.28" y1="624.60" x2="133.28" y2="625.80" stroke="#000" stroke-width="0.60"/>
<line x1="138.30" y1="624.60" x2="138.30" y2="626.80" stroke="#000" stroke-width="0.80"/>
<text x="138.30" y="630.90" font-size="3.70" font-weight="bold" text-anchor="middle" fill="#222">600</text>
<line x1="143.33" y1="624.60" x2="143.33" y2="625.80" stroke="#000" stroke-width="0.60"/>
<line x1="148.35" y1="624.60" x2="148.35" y2="626.80" stroke="#000" stroke-width="0.80"/>
<text x="148.35" y="630.90" font-size="3.70" font-weight="bold" text-anchor="middle" fill="#222">700</text>
<line x1="153.38" y1="624.60" x2="153.38" y2="625.80" stroke="#000" stroke-width="0.60"/>
<line x1="158.40" y1="624.60" x2="158.40" y2="626.80" stroke="#000" stroke-width="0.80"/>
<text x="158.40" y="630.90" font-size="3.70" font-weight="bold" text-anchor="middle" fill="#222">800</text>
<text transform="translate(115.00 640.50) scale(0.68 1)" font-size="6.20" text-anchor="middle" font-weight="bold" fill="#000" stroke="#000" stroke-width="0.25">Analyte [nM]</text>
<text transform="translate(51.3 588) rotate(-90)" font-size="5" text-anchor="middle" fill="#222">R<tspan font-size="3" dy="1">eq</tspan></text>
<path d="M78.0 617.5 L79.9 614.2 L81.8 610.9 L83.7 607.8 L85.6 604.8 L87.5 601.9 L89.4 599.2 L91.3 596.5 L93.2 594.0 L95.1 591.5 L97.0 589.2 L98.9 586.9 L100.8 584.7 L102.7 582.7 L104.6 580.7 L106.5 578.8 L108.4 577.0 L110.3 575.3 L112.2 573.7 L114.1 572.1 L115.9 570.7 L117.8 569.3 L119.7 567.9 L121.6 566.7 L123.5 565.5 L125.4 564.4 L127.3 563.3 L129.2 562.4 L131.1 561.4 L133.0 560.6 L134.9 559.8 L136.8 559.0 L138.7 558.3 L140.6 557.7 L142.5 557.1 L144.4 556.5 L146.3 556.0 L148.2 555.6 L150.1 555.2 L152.0 554.8" fill="none" stroke="#8e1230" stroke-width="1.1"/>
<ellipse cx="79.20" cy="615.38" rx="0.65" ry="0.65" fill="#222"/>
<ellipse cx="82.40" cy="609.92" rx="0.65" ry="0.65" fill="#222"/>
<ellipse cx="87.00" cy="602.67" rx="0.65" ry="0.65" fill="#222"/>
<ellipse cx="96.00" cy="590.35" rx="0.65" ry="0.65" fill="#222"/>
<ellipse cx="113.90" cy="572.26" rx="0.65" ry="0.65" fill="#222"/>
<ellipse cx="151.60" cy="554.89" rx="0.65" ry="0.65" fill="#222"/>
<text x="102.40" y="607.60" font-size="8.20" fill="#222"><tspan font-style="italic">K</tspan><tspan font-size="5" dy="1.6" font-style="italic">D</tspan><tspan dy="-1.6"> = 373 nM</tspan></text>
<path d="M54.3 690.8 L64.3 690.8 L64.4 685.8 L64.6 702.0 L64.8 698.0 L70.8 697.8 L71.2 690.8 L72.5 688.8 L75.0 688.0 L89.5 687.9 L90.3 687.4 L91.2 686.9 L92.0 686.6 L92.9 686.4 L93.8 686.2 L94.6 686.0 L95.5 685.9 L96.3 685.8 L96.6 685.2 L97.0 686.3 L97.7 686.6 L98.4 686.8 L99.1 687.0 L99.8 687.0 L100.4 687.1 L101.1 687.2 L101.8 687.2 L102.5 687.2 L103.3 686.1 L104.2 685.3 L105.0 684.6 L105.8 684.1 L106.7 683.7 L107.5 683.4 L108.4 683.2 L109.2 683.0 L109.5 682.4 L109.9 683.5 L110.7 684.3 L111.4 684.8 L112.2 685.2 L113.0 685.4 L113.7 685.6 L114.5 685.7 L115.2 685.8 L116.0 685.8 L116.6 684.1 L117.1 682.8 L117.7 681.8 L118.2 681.0 L118.8 680.4 L119.4 679.9 L119.9 679.5 L120.5 679.2 L120.8 678.6 L121.2 679.7 L122.0 680.5 L122.8 681.1 L123.6 681.5 L124.4 681.8 L125.2 682.0 L126.0 682.1 L126.8 682.1 L127.6 682.2 L128.4 678.8 L129.2 676.1 L129.9 674.0 L130.7 672.4 L131.5 671.1 L132.2 670.2 L133.0 669.4 L133.8 668.8 L134.2 666.8 L134.5 670.4 L135.1 671.8 L135.8 672.8 L136.4 673.5 L137.1 673.9 L137.7 674.2 L138.3 674.4 L139.0 674.5 L139.6 674.6 L140.5 669.9 L141.3 666.3 L142.2 663.5 L143.1 661.3 L143.9 659.6 L144.8 658.2 L145.6 657.2 L146.5 656.4 L146.8 654.4 L147.2 658.0 L147.8 661.1 L148.4 663.2 L149.1 664.6 L149.7 665.5 L150.3 666.1 L150.9 666.5 L151.6 666.8 L152.2 667.0 L153.1 660.1 L154.1 654.8 L155.1 650.6 L156.0 647.4 L156.9 644.9 L157.9 642.9 L158.9 641.4 L159.8 640.2 L160.2 638.2 L160.5 641.8 L161.2 645.4 L161.8 647.9 L162.5 649.5 L163.2 650.6 L163.8 651.4 L164.5 651.8 L165.1 652.2 L165.8 652.4 L166.7 639.9 L167.5 630.1 L168.4 622.6 L169.2 616.7 L170.1 612.0 L171.0 608.5 L171.8 605.7 L172.7 603.5 L173.0 601.5 L173.4 605.1 L174.1 614.7 L174.7 621.1 L175.4 625.4 L176.0 628.3 L176.7 630.2 L177.4 631.5 L178.0 632.4 L178.7 633.0 L179.5 618.3 L180.2 606.8 L181.0 597.9 L181.8 591.0 L182.6 585.6 L183.3 581.3 L184.1 578.1 L184.9 575.5 L185.2 573.5 L185.6 577.1 L186.3 588.9 L187.0 596.8 L187.7 602.2 L188.4 605.7 L189.1 608.1 L189.8 609.7 L190.5 610.8 L191.2 611.5 L191.4 623.5 L191.7 611.0 L192.5 603.6 L193.3 597.8 L194.1 593.1 L194.9 589.3 L195.8 586.3 L196.6 583.9 L197.4 582.0 L198.2 580.5 L198.6 578.6 L199.0 581.5 L200.0 588.0 L201.0 592.8 L202.0 596.2 L203.0 598.7 L204.0 600.6 L205.0 601.9 L206.0 602.8 L207.0 603.5 L208.0 604.0 L209.0 604.4 L259.0 604.5" fill="none" stroke="#24406b" stroke-width="1.05" stroke-linejoin="round"/>
<text x="63.80" y="684.60" font-size="6.80" fill="#222">67.3</text>
<text x="90.60" y="696.60" font-size="6.80" fill="#222">5.6</text>
<text x="104.60" y="696.60" font-size="6.80" fill="#222">11.2</text>
<text x="119.30" y="691.50" font-size="6.80" fill="#222">22.3</text>
<text x="132.20" y="686.40" font-size="6.80" fill="#222">44.7</text>
<text x="147.20" y="676.40" font-size="6.80" fill="#222">89.4</text>
<text x="159.00" y="663.00" font-size="6.80" fill="#222">178.8</text>
<text x="175.00" y="646.00" font-size="6.80" fill="#222">357.5</text>
<text x="186.20" y="634.20" font-size="6.80" fill="#222">715</text>
<text x="200.20" y="623.60" font-size="6.80" fill="#222">1000</text>
<text x="68.90" y="667.80" font-size="7.70" text-anchor="middle" fill="#222">P-Ig</text>
<text x="69.70" y="676.40" font-size="7.70" text-anchor="middle" fill="#222">/EDTA</text>
<text x="214.00" y="584.00" font-size="8.20" fill="#222"><tspan font-style="italic">k</tspan><tspan font-size="5.3" dy="1.8" font-style="italic">off-apparent</tspan></text>
<text x="206.70" y="595.80" font-size="8.20" fill="#222">= 1.6 x 10<tspan font-size="4.8" dy="-3">-4</tspan><tspan dy="3">s</tspan><tspan font-size="4.8" dy="-3">-1</tspan></text>
<text x="175.20" y="699.40" font-size="8.20" fill="#222"><tspan font-style="italic">k</tspan><tspan font-size="5.3" dy="1.8" font-style="italic">on-apparent</tspan><tspan font-size="7.8" dy="-1.8"> = 429 M</tspan><tspan font-size="4.8" dy="-3">-1</tspan><tspan dy="3"> s</tspan><tspan font-size="4.8" dy="-3">-1</tspan></text>
<text x="404.80" y="546.20" font-size="10.00" font-weight="bold" text-anchor="middle" fill="#000" stroke="#000" stroke-width="0.25">CD34</text>
<line x1="296.30" y1="546.70" x2="296.30" y2="713.40" stroke="#000" stroke-width="1.45"/>
<line x1="295.60" y1="712.70" x2="512.60" y2="712.70" stroke="#000" stroke-width="1.45"/>
<line x1="292.90" y1="698.33" x2="296.30" y2="698.33" stroke="#000" stroke-width="1.10"/>
<line x1="292.90" y1="684.20" x2="296.30" y2="684.20" stroke="#000" stroke-width="1.10"/>
<text transform="translate(291.10 687.10) scale(1.27 1)" font-size="7.7" text-anchor="end" fill="#000">0</text>
<line x1="292.90" y1="670.07" x2="296.30" y2="670.07" stroke="#000" stroke-width="1.10"/>
<text transform="translate(291.10 672.97) scale(1.27 1)" font-size="7.7" text-anchor="end" fill="#000">50</text>
<line x1="292.90" y1="655.94" x2="296.30" y2="655.94" stroke="#000" stroke-width="1.10"/>
<text transform="translate(291.10 658.84) scale(1.27 1)" font-size="7.7" text-anchor="end" fill="#000">100</text>
<line x1="292.90" y1="641.81" x2="296.30" y2="641.81" stroke="#000" stroke-width="1.10"/>
<text transform="translate(291.10 644.71) scale(1.27 1)" font-size="7.7" text-anchor="end" fill="#000">150</text>
<line x1="292.90" y1="627.68" x2="296.30" y2="627.68" stroke="#000" stroke-width="1.10"/>
<text transform="translate(291.10 630.58) scale(1.27 1)" font-size="7.7" text-anchor="end" fill="#000">200</text>
<line x1="292.90" y1="613.55" x2="296.30" y2="613.55" stroke="#000" stroke-width="1.10"/>
<text transform="translate(291.10 616.45) scale(1.27 1)" font-size="7.7" text-anchor="end" fill="#000">250</text>
<line x1="292.90" y1="599.42" x2="296.30" y2="599.42" stroke="#000" stroke-width="1.10"/>
<text transform="translate(291.10 602.32) scale(1.27 1)" font-size="7.7" text-anchor="end" fill="#000">300</text>
<line x1="292.90" y1="585.29" x2="296.30" y2="585.29" stroke="#000" stroke-width="1.10"/>
<text transform="translate(291.10 588.19) scale(1.27 1)" font-size="7.7" text-anchor="end" fill="#000">350</text>
<line x1="292.90" y1="571.16" x2="296.30" y2="571.16" stroke="#000" stroke-width="1.10"/>
<text transform="translate(291.10 574.06) scale(1.27 1)" font-size="7.7" text-anchor="end" fill="#000">400</text>
<line x1="292.90" y1="557.03" x2="296.30" y2="557.03" stroke="#000" stroke-width="1.10"/>
<text transform="translate(291.10 559.93) scale(1.27 1)" font-size="7.7" text-anchor="end" fill="#000">450</text>
<line x1="294.40" y1="705.40" x2="296.30" y2="705.40" stroke="#000" stroke-width="0.90"/>
<line x1="294.40" y1="691.27" x2="296.30" y2="691.27" stroke="#000" stroke-width="0.90"/>
<line x1="294.40" y1="677.13" x2="296.30" y2="677.13" stroke="#000" stroke-width="0.90"/>
<line x1="294.40" y1="663.00" x2="296.30" y2="663.00" stroke="#000" stroke-width="0.90"/>
<line x1="294.40" y1="648.88" x2="296.30" y2="648.88" stroke="#000" stroke-width="0.90"/>
<line x1="294.40" y1="634.75" x2="296.30" y2="634.75" stroke="#000" stroke-width="0.90"/>
<line x1="294.40" y1="620.62" x2="296.30" y2="620.62" stroke="#000" stroke-width="0.90"/>
<line x1="294.40" y1="606.49" x2="296.30" y2="606.49" stroke="#000" stroke-width="0.90"/>
<line x1="294.40" y1="592.36" x2="296.30" y2="592.36" stroke="#000" stroke-width="0.90"/>
<line x1="294.40" y1="578.23" x2="296.30" y2="578.23" stroke="#000" stroke-width="0.90"/>
<line x1="294.40" y1="564.10" x2="296.30" y2="564.10" stroke="#000" stroke-width="0.90"/>
<line x1="294.40" y1="549.97" x2="296.30" y2="549.97" stroke="#000" stroke-width="0.90"/>
<line x1="305.30" y1="712.70" x2="305.30" y2="716.10" stroke="#000" stroke-width="1.10"/>
<text x="305.30" y="726.60" font-size="8.60" text-anchor="middle" fill="#000">0</text>
<line x1="325.10" y1="712.70" x2="325.10" y2="714.60" stroke="#000" stroke-width="0.90"/>
<line x1="344.90" y1="712.70" x2="344.90" y2="716.10" stroke="#000" stroke-width="1.10"/>
<text x="344.90" y="726.60" font-size="8.60" text-anchor="middle" fill="#000">1000</text>
<line x1="364.70" y1="712.70" x2="364.70" y2="714.60" stroke="#000" stroke-width="0.90"/>
<line x1="384.50" y1="712.70" x2="384.50" y2="716.10" stroke="#000" stroke-width="1.10"/>
<text x="384.50" y="726.60" font-size="8.60" text-anchor="middle" fill="#000">2000</text>
<line x1="404.30" y1="712.70" x2="404.30" y2="714.60" stroke="#000" stroke-width="0.90"/>
<line x1="424.10" y1="712.70" x2="424.10" y2="716.10" stroke="#000" stroke-width="1.10"/>
<text x="424.10" y="726.60" font-size="8.60" text-anchor="middle" fill="#000">3000</text>
<line x1="443.90" y1="712.70" x2="443.90" y2="714.60" stroke="#000" stroke-width="0.90"/>
<line x1="463.70" y1="712.70" x2="463.70" y2="716.10" stroke="#000" stroke-width="1.10"/>
<text x="463.70" y="726.60" font-size="8.60" text-anchor="middle" fill="#000">4000</text>
<line x1="483.50" y1="712.70" x2="483.50" y2="714.60" stroke="#000" stroke-width="0.90"/>
<line x1="503.30" y1="712.70" x2="503.30" y2="716.10" stroke="#000" stroke-width="1.10"/>
<text x="503.30" y="726.60" font-size="8.60" text-anchor="middle" fill="#000">5000</text>
<line x1="322.50" y1="550.20" x2="322.50" y2="625.30" stroke="#000" stroke-width="1.00"/>
<line x1="322.00" y1="624.80" x2="418.70" y2="624.80" stroke="#000" stroke-width="1.00"/>
<line x1="320.30" y1="617.20" x2="322.50" y2="617.20" stroke="#000" stroke-width="0.80"/>
<text x="319.30" y="619.00" font-size="5.00" font-weight="bold" text-anchor="end" fill="#222">0</text>
<line x1="321.30" y1="609.83" x2="322.50" y2="609.83" stroke="#000" stroke-width="0.60"/>
<line x1="320.30" y1="602.45" x2="322.50" y2="602.45" stroke="#000" stroke-width="0.80"/>
<text x="319.30" y="604.25" font-size="5.00" font-weight="bold" text-anchor="end" fill="#222">100</text>
<line x1="321.30" y1="595.08" x2="322.50" y2="595.08" stroke="#000" stroke-width="0.60"/>
<line x1="320.30" y1="587.70" x2="322.50" y2="587.70" stroke="#000" stroke-width="0.80"/>
<text x="319.30" y="589.50" font-size="5.00" font-weight="bold" text-anchor="end" fill="#222">200</text>
<line x1="321.30" y1="580.33" x2="322.50" y2="580.33" stroke="#000" stroke-width="0.60"/>
<line x1="320.30" y1="572.95" x2="322.50" y2="572.95" stroke="#000" stroke-width="0.80"/>
<text x="319.30" y="574.75" font-size="5.00" font-weight="bold" text-anchor="end" fill="#222">300</text>
<line x1="321.30" y1="565.58" x2="322.50" y2="565.58" stroke="#000" stroke-width="0.60"/>
<line x1="320.30" y1="558.20" x2="322.50" y2="558.20" stroke="#000" stroke-width="0.80"/>
<text x="319.30" y="560.00" font-size="5.00" font-weight="bold" text-anchor="end" fill="#222">400</text>
<line x1="321.30" y1="550.83" x2="322.50" y2="550.83" stroke="#000" stroke-width="0.60"/>
<line x1="328.40" y1="624.80" x2="328.40" y2="627.00" stroke="#000" stroke-width="0.80"/>
<text x="328.40" y="632.40" font-size="5.00" font-weight="bold" text-anchor="middle" fill="#222">0</text>
<line x1="333.92" y1="624.80" x2="333.92" y2="626.00" stroke="#000" stroke-width="0.60"/>
<line x1="339.45" y1="624.80" x2="339.45" y2="627.00" stroke="#000" stroke-width="0.80"/>
<text x="339.45" y="632.40" font-size="5.00" font-weight="bold" text-anchor="middle" fill="#222">100</text>
<line x1="344.97" y1="624.80" x2="344.97" y2="626.00" stroke="#000" stroke-width="0.60"/>
<line x1="350.50" y1="624.80" x2="350.50" y2="627.00" stroke="#000" stroke-width="0.80"/>
<text x="350.50" y="632.40" font-size="5.00" font-weight="bold" text-anchor="middle" fill="#222">200</text>
<line x1="356.02" y1="624.80" x2="356.02" y2="626.00" stroke="#000" stroke-width="0.60"/>
<line x1="361.55" y1="624.80" x2="361.55" y2="627.00" stroke="#000" stroke-width="0.80"/>
<text x="361.55" y="632.40" font-size="5.00" font-weight="bold" text-anchor="middle" fill="#222">300</text>
<line x1="367.07" y1="624.80" x2="367.07" y2="626.00" stroke="#000" stroke-width="0.60"/>
<line x1="372.60" y1="624.80" x2="372.60" y2="627.00" stroke="#000" stroke-width="0.80"/>
<text x="372.60" y="632.40" font-size="5.00" font-weight="bold" text-anchor="middle" fill="#222">400</text>
<line x1="378.12" y1="624.80" x2="378.12" y2="626.00" stroke="#000" stroke-width="0.60"/>
<line x1="383.65" y1="624.80" x2="383.65" y2="627.00" stroke="#000" stroke-width="0.80"/>
<text x="383.65" y="632.40" font-size="5.00" font-weight="bold" text-anchor="middle" fill="#222">500</text>
<line x1="389.17" y1="624.80" x2="389.17" y2="626.00" stroke="#000" stroke-width="0.60"/>
<line x1="394.70" y1="624.80" x2="394.70" y2="627.00" stroke="#000" stroke-width="0.80"/>
<text x="394.70" y="632.40" font-size="5.00" font-weight="bold" text-anchor="middle" fill="#222">600</text>
<line x1="400.22" y1="624.80" x2="400.22" y2="626.00" stroke="#000" stroke-width="0.60"/>
<line x1="405.75" y1="624.80" x2="405.75" y2="627.00" stroke="#000" stroke-width="0.80"/>
<text x="405.75" y="632.40" font-size="5.00" font-weight="bold" text-anchor="middle" fill="#222">700</text>
<line x1="411.27" y1="624.80" x2="411.27" y2="626.00" stroke="#000" stroke-width="0.60"/>
<line x1="416.80" y1="624.80" x2="416.80" y2="627.00" stroke="#000" stroke-width="0.80"/>
<text x="416.80" y="632.40" font-size="5.00" font-weight="bold" text-anchor="middle" fill="#222">800</text>
<text transform="translate(370.00 643.40) scale(0.80 1)" font-size="6.40" text-anchor="middle" font-weight="bold" fill="#000" stroke="#000" stroke-width="0.25">Analyte [nM]</text>
<text transform="translate(404.00 740.40) scale(0.78 1)" font-size="9.60" text-anchor="middle" fill="#000" stroke="#000" stroke-width="0.25">Time (s)</text>
<text transform="translate(302.6 591.5) rotate(-90)" font-size="5.6" text-anchor="middle" fill="#222">R<tspan font-size="3.2" dy="1">eq</tspan></text>
<path d="M329.8 618.2 L331.7 615.9 L333.7 613.6 L335.6 611.4 L337.6 609.2 L339.5 607.0 L341.5 604.9 L343.4 602.8 L345.4 600.7 L347.3 598.7 L349.3 596.7 L351.2 594.7 L353.2 592.8 L355.1 591.0 L357.1 589.1 L359.0 587.3 L361.0 585.6 L362.9 583.9 L364.9 582.2 L366.8 580.6 L368.8 579.0 L370.7 577.5 L372.7 576.0 L374.6 574.5 L376.6 573.1 L378.5 571.7 L380.5 570.4 L382.4 569.1 L384.4 567.9 L386.3 566.7 L388.3 565.6 L390.2 564.5 L392.2 563.5 L394.1 562.5 L396.1 561.5 L398.0 560.6 L400.0 559.8 L401.9 559.0 L403.9 558.2 L405.8 557.6" fill="none" stroke="#8e1230" stroke-width="1.1"/>
<ellipse cx="330.20" cy="615.90" rx="0.65" ry="0.65" fill="#222"/>
<ellipse cx="331.50" cy="616.60" rx="0.65" ry="0.65" fill="#222"/>
<ellipse cx="333.40" cy="614.50" rx="0.65" ry="0.65" fill="#222"/>
<ellipse cx="337.20" cy="610.20" rx="0.65" ry="0.65" fill="#222"/>
<ellipse cx="347.20" cy="602.80" rx="0.65" ry="0.65" fill="#222"/>
<ellipse cx="366.40" cy="575.30" rx="0.65" ry="0.65" fill="#222"/>
<ellipse cx="405.50" cy="557.50" rx="0.65" ry="0.65" fill="#222"/>
<text x="361.20" y="609.80" font-size="8.20" fill="#222"><tspan font-style="italic">K</tspan><tspan font-size="5" dy="1.6" font-style="italic">D</tspan><tspan dy="-1.6"> = 622 nM</tspan></text>
<path d="M305.3 683.8 L310.0 685.4 L315.0 686.9 L315.2 679.8 L315.4 694.0 L321.8 694.0 L322.2 689.2 L323.5 689.6 L325.0 691.6 L327.5 692.6 L333.0 693.3 L340.8 693.8 L352.0 693.6 L358.0 692.8 L360.0 693.4 L366.0 692.8 L368.0 692.2 L371.0 691.0 L372.4 689.6 L373.0 691.5 L375.5 692.2 L378.5 692.2 L379.2 690.7 L379.8 689.5 L380.5 688.5 L381.1 687.8 L381.8 687.2 L382.5 686.8 L383.1 686.5 L383.8 686.2 L384.2 684.2 L384.5 687.8 L385.1 688.8 L385.7 689.4 L386.3 689.8 L386.9 690.1 L387.4 690.3 L388.0 690.5 L388.6 690.5 L389.2 690.6 L390.1 687.5 L390.9 685.0 L391.8 683.2 L392.6 681.7 L393.5 680.5 L394.4 679.6 L395.2 678.9 L396.1 678.4 L396.5 676.4 L396.8 680.0 L397.4 682.1 L398.1 683.4 L398.8 684.4 L399.4 685.0 L400.1 685.4 L400.7 685.7 L401.4 685.9 L402.0 686.0 L403.1 679.5 L404.1 674.4 L405.2 670.4 L406.2 667.4 L407.3 665.0 L408.4 663.1 L409.4 661.6 L410.5 660.5 L410.9 658.5 L411.2 662.1 L411.9 668.2 L412.6 672.3 L413.3 675.0 L414.0 676.8 L414.8 678.1 L415.5 678.9 L416.2 679.4 L416.9 679.8 L417.6 660.9 L418.4 646.2 L419.1 634.8 L419.9 625.8 L420.6 618.9 L421.4 613.5 L422.1 609.3 L422.9 606.0 L423.2 604.0 L423.6 607.6 L424.2 626.6 L424.8 639.3 L425.4 647.8 L426.0 653.5 L426.7 657.4 L427.3 659.9 L427.9 661.6 L428.5 662.8 L429.3 642.0 L430.2 625.8 L431.0 613.2 L431.9 603.4 L432.7 595.7 L433.5 589.8 L434.4 585.1 L435.2 581.5 L435.6 579.5 L435.9 583.1 L436.6 603.0 L437.2 616.3 L437.9 625.3 L438.5 631.3 L439.2 635.3 L439.9 638.0 L440.5 639.8 L441.2 641.0 L441.5 658.2 L441.7 640.5 L442.4 631.3 L443.2 624.0 L443.9 618.2 L444.6 613.5 L445.4 609.8 L446.1 606.8 L446.9 604.4 L447.6 602.5 L448.1 600.0 L448.5 603.5 L449.4 612.0 L450.4 618.0 L451.4 622.2 L452.3 625.1 L453.2 627.1 L454.2 628.5 L455.1 629.5 L456.1 630.2 L457.1 630.7 L458.0 631.0 L508.0 631.2" fill="none" stroke="#24406b" stroke-width="1.05" stroke-linejoin="round"/>
<text x="315.20" y="677.80" font-size="6.80" fill="#222">67.3</text>
<text x="340.20" y="705.00" font-size="6.80" fill="#222">5.6</text>
<text x="352.90" y="705.00" font-size="6.80" fill="#222">11.2</text>
<text x="369.00" y="705.00" font-size="6.80" fill="#222">22.3</text>
<text x="381.70" y="702.00" font-size="6.80" fill="#222">44.7</text>
<text x="394.00" y="697.00" font-size="6.80" fill="#222">89.4</text>
<text x="407.00" y="689.80" font-size="6.80" fill="#222">178.8</text>
<text x="421.00" y="678.00" font-size="6.80" fill="#222">357.5</text>
<text x="433.90" y="667.80" font-size="6.80" fill="#222">715</text>
<text x="450.50" y="647.60" font-size="6.80" fill="#222">1000</text>
<text x="322.50" y="657.80" font-size="7.70" text-anchor="middle" fill="#222">P-Ig</text>
<text x="323.30" y="667.00" font-size="7.70" text-anchor="middle" fill="#222">/EDTA</text>
<text x="467.50" y="610.00" font-size="8.20" fill="#222"><tspan font-style="italic">k</tspan><tspan font-size="5.3" dy="1.8" font-style="italic">off-apparent</tspan></text>
<text x="460.00" y="621.20" font-size="7.70" fill="#222">= 2.4 x 10<tspan font-size="4.8" dy="-3">-4</tspan><tspan dy="3">s</tspan><tspan font-size="4.8" dy="-3">-1</tspan></text>
<text x="426.30" y="703.20" font-size="8.20" fill="#222"><tspan font-style="italic">k</tspan><tspan font-size="5.3" dy="1.8" font-style="italic">on-apparent</tspan><tspan font-size="7.8" dy="-1.8"> = 378 M</tspan><tspan font-size="4.8" dy="-3">-1</tspan><tspan dy="3"> s</tspan><tspan font-size="4.8" dy="-3">-1</tspan></text>
</g>
<rect x="0" y="0" width="520" height="1.3" fill="#000"/>
<rect x="0" y="0" width="1.4" height="750" fill="#000"/>
<rect x="518.8" y="0" width="1.2" height="750" fill="#000"/>
<rect x="0" y="747.6" width="520" height="2.4" fill="#000"/>
</svg></body></html>
